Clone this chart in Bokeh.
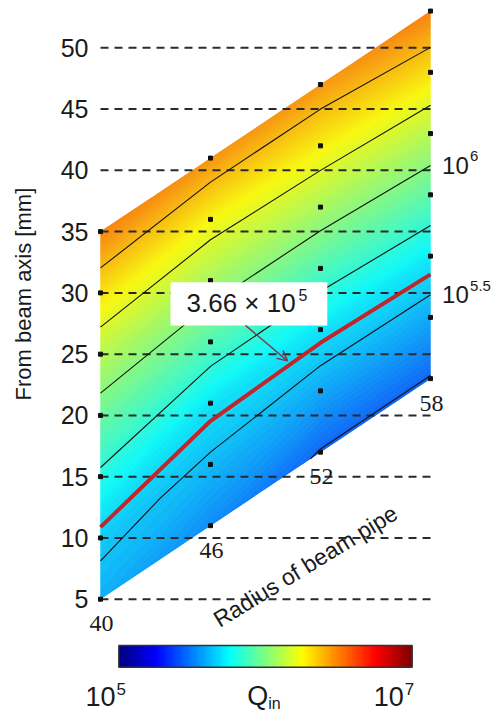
import numpy as np
from bokeh.plotting import figure
from bokeh.models import (Range1d, Label, LabelSet, ColumnDataSource,
                          LinearColorMapper, Arrow, OpenHead)
from bokeh.core.properties import value
from bokeh.embed import file_html
from bokeh.resources import INLINE

# ---------------- data ----------------
radius = [40, 46, 52, 58]                      # radius of beam pipe [mm]
dist_r40 = [5, 10, 15, 20, 25, 30, 35]         # distance from beam axis [mm]
dist_r46 = [11, 16, 21, 26, 31, 36, 41]
dist_r52 = [17, 22, 27, 32, 37, 42, 47]
dist_r58 = [23, 28, 33, 38, 43, 48, 53]
logq_r40 = [5.45, 5.53, 5.72, 5.92, 6.14, 6.39, 6.66]   # log10(Q_in)
logq_r46 = [5.35, 5.475, 5.60, 5.85, 6.09, 6.33, 6.61]
logq_r52 = [5.24, 5.43, 5.60, 5.84, 6.10, 6.35, 6.60]
logq_r58 = [5.24, 5.43, 5.62, 5.88, 6.13, 6.39, 6.66]
line_levels = [5.25, 5.5, 5.75, 6.0, 6.25, 6.5]
q_marked = 3.66e5
y_ticks = [5, 10, 15, 20, 25, 30, 35, 40, 45, 50]
cbar_low, cbar_high = 5, 7
right_labels = [("10", "6", 6.0), ("10", "5.5", 5.5)]

FONT = "Liberation Sans"
TXT = "#1a1a1a"


def jet(t, mix=0.0):
    t = min(max(t, 0.0), 1.0)
    r = min(max(1.5 - abs(4 * t - 3), 0), 1)
    g = min(max(1.5 - abs(4 * t - 2), 0), 1)
    b = min(max(1.5 - abs(4 * t - 1), 0), 1)
    grey = 0.72
    r, g, b = [(1 - mix) * c + mix * grey for c in (r, g, b)]
    return "#%02x%02x%02x" % (int(r * 255), int(g * 255), int(b * 255))


X = np.array([radius] * len(dist_r40), dtype=float)
Y = np.column_stack([dist_r40, dist_r46, dist_r52, dist_r58]).astype(float)
Z = np.column_stack([logq_r40, logq_r46, logq_r52, logq_r58]).astype(float)

p = figure(width=499, height=712,
           x_range=Range1d(34.545, 61.764), y_range=Range1d(-4.247, 53.862),
           output_backend="svg", toolbar_location=None,
           x_axis_location=None, y_axis_location=None,
           min_border_left=0, min_border_right=0, min_border_top=0, min_border_bottom=0)
p.outline_line_color = None
p.grid.visible = False

# smooth colour field (many filled bands, drawn twice to hide seams)
cmin, cmax = 4.66, 7.32
fill_levels = np.linspace(Z.min() - 0.01, Z.max() + 0.01, 81)
mids = 0.5 * (fill_levels[:-1] + fill_levels[1:])
fill_cols = [jet((m - cmin) / (cmax - cmin), mix=0.09) for m in mids]
for _ in range(2):
    p.contour(X, Y, Z, levels=list(fill_levels), fill_color=fill_cols, line_color=None)

# dashed reference lines
n = len(y_ticks)
p.segment(x0=[radius[0]] * n, x1=[radius[-1] + 0.1] * n, y0=y_ticks, y1=y_ticks,
          line_dash="8 6", line_width=2, line_color="#2a2a2a")

# y tick labels
p.text(x=[radius[0]] * n, y=y_ticks, text=[str(t) for t in y_ticks], x_offset=-12,
       text_align="right", text_baseline="middle", text_font=value(FONT),
       text_font_size="25px", text_color=TXT)

# contour lines
lv_red = float(np.log10(q_marked))
all_lv = sorted(line_levels + [lv_red])
lcols = ["#c0262c" if abs(l - lv_red) < 1e-9 else "#111111" for l in all_lv]
lws = [4.0 if abs(l - lv_red) < 1e-9 else 1.1 for l in all_lv]
p.contour(X, Y, Z, levels=all_lv, line_color=lcols, line_width=lws)

# grid points
p.scatter(X.ravel(), Y.ravel(), marker="square", size=4, color="#111111")

# annotation box with arrow
p.quad(left=43.82, right=52.37, bottom=27.34, top=30.87, fill_color="white", line_color=None)
p.add_layout(Label(x=44.69, y=29.15, text="3.66 × 10", text_font=FONT, text_font_size="26px",
                   text_color=TXT, text_align="left", text_baseline="middle"))
p.add_layout(Label(x=44.69, y=29.85, x_offset=112, text="5", text_font=FONT, text_font_size="16px",
                   text_color=TXT, text_align="left", text_baseline="middle"))
p.add_layout(Arrow(end=OpenHead(size=10, line_color="#7d3a50", line_width=1.5),
                   x_start=47.91, y_start=27.34, x_end=50.2, y_end=24.45,
                   line_color="#7d3a50", line_width=1.5))

# right-hand contour labels
for base, sup, lev in right_labels:
    yv = float(np.interp(lev, logq_r58, dist_r58))
    p.add_layout(Label(x=58.63, y=yv, text=base, text_font=FONT, text_font_size="24px",
                       text_color=TXT, text_align="left", text_baseline="middle"))
    p.add_layout(Label(x=58.63, y=yv + 0.75, x_offset=28, text=sup, text_font=FONT,
                       text_font_size="15px", text_color=TXT, text_align="left",
                       text_baseline="middle"))

# radius labels along the lower edge
src = ColumnDataSource(dict(x=radius, y=[d[0] - 2.0 for d in (dist_r40, dist_r46, dist_r52, dist_r58)],
                            t=[str(r) for r in radius]))
p.add_layout(LabelSet(x="x", y="y", text="t", source=src, x_offset=1, text_font=FONT,
                      text_font_size="24px", text_color=TXT, text_align="center",
                      text_baseline="middle"))

p.add_layout(Label(x=51.18, y=7.7, text="Radius of beam pipe", angle=0.55, text_font=FONT,
                   text_font_size="23px", text_color=TXT, text_align="center",
                   text_baseline="middle"))
p.add_layout(Label(x=35.8, y=29.9, text="From beam axis [mm]", angle=np.pi / 2, text_font=FONT,
                   text_font_size="22px", text_color=TXT, text_align="center",
                   text_baseline="middle"))

# colour bar
jet256 = [jet(i / 255) for i in range(256)]
mapper = LinearColorMapper(palette=jet256, low=cbar_low, high=cbar_high)
p.image(image=[np.linspace(cbar_low, cbar_high, 256)[None, :]], x=41.0, y=-0.55, dw=16.0, dh=1.77,
        color_mapper=mapper)
p.quad(left=41.0, right=57.0, bottom=-0.55, top=1.22, fill_color=None, line_color="#333333",
       line_width=1.5)
p.add_layout(Label(x=40.82, y=-2.94, text="10", text_font=FONT, text_font_size="27px",
                   text_color=TXT, text_align="right", text_baseline="middle"))
p.add_layout(Label(x=40.82, y=-2.35, x_offset=1, text=str(cbar_low), text_font=FONT,
                   text_font_size="17px", text_color=TXT, text_align="left", text_baseline="middle"))
p.add_layout(Label(x=56.54, y=-2.94, text="10", text_font=FONT, text_font_size="27px",
                   text_color=TXT, text_align="right", text_baseline="middle"))
p.add_layout(Label(x=56.54, y=-2.35, x_offset=1, text=str(cbar_high), text_font=FONT,
                   text_font_size="17px", text_color=TXT, text_align="left", text_baseline="middle"))
p.add_layout(Label(x=48.0, y=-2.94, text="Q", text_font=FONT, text_font_size="27px",
                   text_color=TXT, text_align="left", text_baseline="middle"))
p.add_layout(Label(x=48.0, y=-3.5, x_offset=21, text="in", text_font=FONT, text_font_size="16px",
                   text_color=TXT, text_align="left", text_baseline="middle"))

open("out.html", "w").write(file_html(p, INLINE))
